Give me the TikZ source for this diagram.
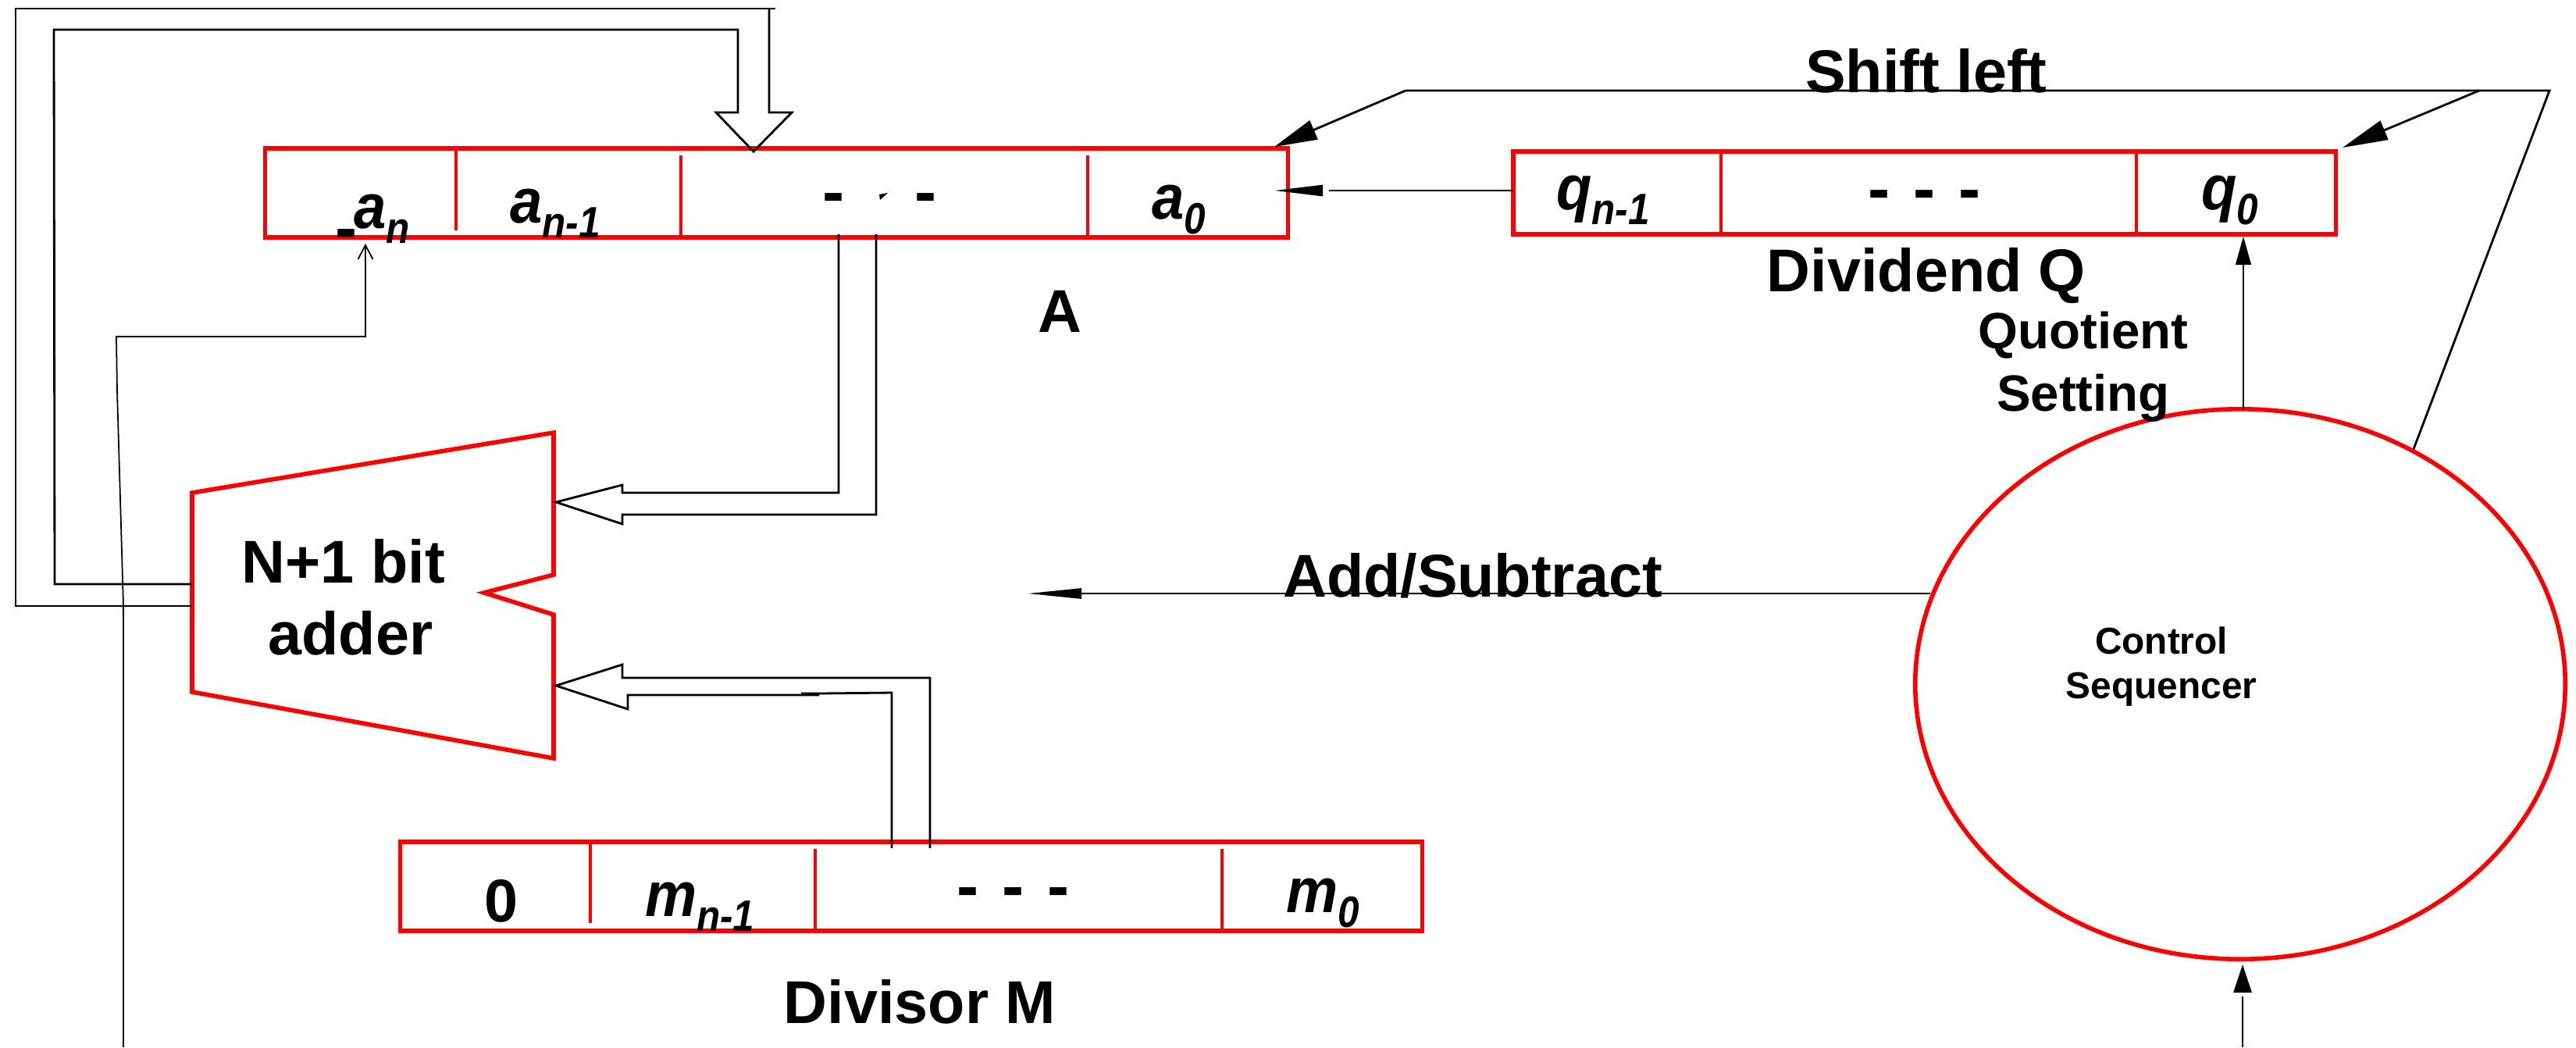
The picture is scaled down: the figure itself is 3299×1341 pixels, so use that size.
\documentclass[tikz,border=0pt]{standalone}
\usepackage{fontspec}
\setmainfont{Liberation Sans}
\usetikzlibrary{arrows.meta,shapes.geometric}
\newcommand{\subbit}[2]{\bfseries\itshape\scalebox{0.92}[1]{#1}\raisebox{-5.5pt}{\fontsize{16}{16}\selectfont\scalebox{0.88}[1]{#2}}}
\newcommand{\regdots}{-\hspace{8.5pt}-\hspace{8.5pt}-}

\begin{document}
\begin{tikzpicture}[x=0.01cm,y=-0.01cm,every node/.style={inner sep=0pt,outer sep=0pt}]
\tikzstyle{reg}=[draw=red, line width=1.6pt, rectangle, minimum height=1.14cm]
\tikzstyle{regline}=[draw=red, line width=1.4pt]
\tikzstyle{wire}=[line width=0.8pt, line join=miter]
\tikzstyle{thin wire}=[line width=0.5pt]
\tikzstyle{big}=[anchor=base, font=\fontsize{22}{22}\selectfont\bfseries]
\tikzstyle{mid}=[anchor=base, font=\fontsize{18.6}{18.6}\selectfont\bfseries]
\tikzstyle{small}=[anchor=base, font=\fontsize{13.6}{13.6}\selectfont\bfseries]
\tikzstyle{bit}=[anchor=base west, font=\fontsize{23}{23}\selectfont]
\tikzstyle{dots}=[anchor=center, font=\fontsize{24}{24}\selectfont\bfseries]
\useasboundingbox (0,0) rectangle (3299,1341);

% registers
\node[reg, minimum width=13.09cm] (regA) at (994.5,247) {};
\node[reg, minimum width=10.53cm, minimum height=1.06cm] (regQ) at (2464.5,247) {};
\node[reg, minimum width=13.08cm] (regM) at (1167,1135) {};
\draw[regline] (584,190) -- (584,295); \draw[regline] (872,199) -- (872,304); \draw[regline] (1393,199) -- (1393,304);
\draw[regline,line width=1pt] (2204,194) -- (2204,300); \draw[regline,line width=1pt] (2736,194) -- (2736,300);
\draw[regline] (756,1078) -- (756,1182); \draw[regline] (1044,1087) -- (1044,1192); \draw[regline] (1565,1087) -- (1565,1192);

\node[draw=red, line width=1.6pt, ellipse, minimum width=8.32cm, minimum height=7.04cm] (seq) at (2869,876) {};
\coordinate (adderNW) at (246,631); \coordinate (adderNE) at (709,554); \coordinate (notchT) at (709,736);
\coordinate (notch) at (620,759); \coordinate (notchB) at (709,787); \coordinate (adderSE) at (709,971); \coordinate (adderSW) at (246,886);
\draw[regline,line width=1.6pt] (adderNW) -- (adderNE) -- (notchT) -- (notch) -- (notchB) -- (adderSE) -- (adderSW) -- cycle;

% bus ports
\coordinate (outIn) at (246,748); \coordinate (outOut) at (246,776);
\coordinate (aIn) at (965,194); \coordinate (aOutL) at (1074,300); \coordinate (aOutR) at (1122,300);
\coordinate (addA) at (712,643); \coordinate (addB) at (712,878);
\coordinate (mOutL) at (1142,1086); \coordinate (mOutR) at (1191,1086);

\draw[wire] (outIn) -- (70,748) -- (69,38) -- (945,38) -- (945,144) -- (917,144) -- (aIn) -- (1014,144) -- (985,144) -- (985,11);
\draw[wire] (outOut) -- (20,776) -- (20,11) -- (993,11);
\draw[wire] (aOutL) -- (1074,631) -- (797,631) -- (797,621) -- (addA) -- (797,671) -- (797,659) -- (1122,659) -- (aOutR);
\draw[wire] (mOutR) -- (1191,868) -- (797,868) -- (797,851) -- (addB) -- (804,908) -- (804,890) -- (1049,890);
\draw[wire] (1026,888) -- (1049,888) -- (1142,887) -- (mOutL);

% control lines
\coordinate (shiftL) at (1800,116); \coordinate (shiftM) at (3175,116); \coordinate (shiftR) at (3265,116);
\coordinate (tipA) at (1632,188); \coordinate (tipQ) at (3000,189);
\coordinate (qBack) at (1938,244); \coordinate (backEnd) at (1702,244); \coordinate (backHead) at (1694,244); \coordinate (tipBack) at (1632,244);
\coordinate (qSet) at (2873,303); \coordinate (seqIn) at (2872,1341); \coordinate (seqEnd) at (2872,1276); \coordinate (seqHead) at (2872,1271); \coordinate (tipSeq) at (2872,1235);
\coordinate (seqLeft) at (2472,760); \coordinate (tipAdd) at (1316,760); \coordinate (seqShift) at (3091,575);
\coordinate (anTail) at (158,1341); \coordinate (tipAn) at (468,312);
\draw[wire] (shiftL) -- (shiftR) -- (seqShift);
\draw[wire,-{Triangle[length=0.55cm,width=0.26cm]}] (shiftL) -- (tipA);
\draw[wire,-{Triangle[length=0.58cm,width=0.26cm]}] (shiftM) -- (tipQ);
\draw[wire] (qBack) -- (backEnd);
\draw[wire,-{Triangle[length=0.62cm,width=0.14cm]}] (backHead) -- (tipBack);
\draw[thin wire,-{Triangle[length=0.36cm,width=0.2cm]}] (qSet |- seq.north) -- (qSet);
\draw[wire] (seqIn) -- (seqEnd);
\draw[wire,-{Triangle[length=0.36cm,width=0.23cm]}] (seqHead) -- (tipSeq);
\draw[wire,-{Triangle[length=0.69cm,width=0.13cm]}] (seqLeft) -- (tipAdd);
\draw[thin wire,-{Straight Barb[length=0.18cm,width=0.19cm]}] (anTail) -- (158,776) -- (150,500) -- (149,431) -- (468,431) -- (tipAn);

% labels
\node[bit] (an) at (453,292) {\subbit{a}{n}};
\node[bit] (anm) at (653,285) {\subbit{a}{n-1}};
\node[bit] (azero) at (1475,280) {\subbit{a}{0}};
\node[bit] (qnm) at (1993,268) {\subbit{q}{n-1}};
\node[bit] (qzero) at (2819,268) {\subbit{q}{0}};
\node[bit] (mnm) at (826,1173) {\subbit{m}{n-1}};
\node[bit] (mzero) at (1647,1168) {\subbit{m}{0}};
\node[big] (msb) at (642,1180) {0};
\node[dots] (sign) at (444,307) {-};
\node[dots] (dotsAL) at (1068,261) {-};
\node[dots] (dotsAR) at (1186,261) {-};
\fill (1126,249) -- (1137,247) -- (1127,256) -- cycle;
\node[dots] (dotsQ) at (2465,257) {\regdots};
\node[dots] (dotsM) at (1298,1150) {\regdots};
\node[big] (shift) at (2467,118) {Shift left};
\node[big] (dividend) at (2467,373) {Dividend Q};
\node[mid] (quot) at (2668,446) {Quotient};
\node[mid] (sett) at (2668,526) {Setting};
\node[big] (nameA) at (1357,425) {A};
\node[big] (adderA) at (440,746) {N+1 bit};
\node[big] (adderB) at (449,838) {adder};
\node[big] (addsub) at (1886,764) {Add/Subtract};
\node[big] (divisor) at (1178,1310) {Divisor M};
\node[small] (ctrl) at (2768,837) {Control};
\node[small] (seqr) at (2768,894) {Sequencer};
\end{tikzpicture}
\end{document}
